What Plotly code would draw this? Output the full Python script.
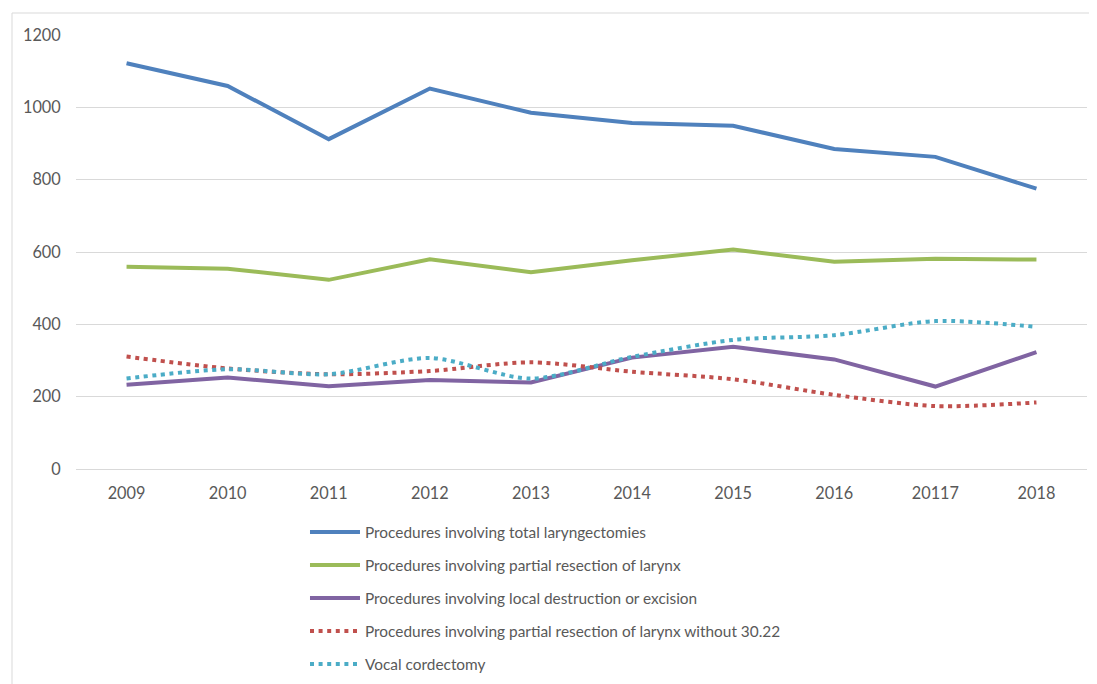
import plotly.graph_objects as go

years = ["2009", "2010", "2011", "2012", "2013", "2014", "2015", "2016", "20117", "2018"]
total_laryngectomies = [1122, 1059, 912, 1052, 985, 957, 949, 885, 863, 775]
partial_resection = [559, 554, 523, 580, 544, 577, 607, 573, 581, 579]
local_destruction = [233, 253, 229, 246, 239, 308, 338, 303, 228, 323]
partial_without_3022 = [311, 278, 262, 271, 295, 269, 248, 205, 174, 184]
vocal_cordectomy = [250, 276, 262, 307, 250, 310, 357, 370, 409, 393]

names = [
    "Procedures involving total laryngectomies",
    "Procedures involving partial resection of larynx",
    "Procedures involving local destruction or excision",
    "Procedures involving partial resection of larynx without 30.22",
    "Vocal cordectomy",
]
series = [total_laryngectomies, partial_resection, local_destruction,
          partial_without_3022, vocal_cordectomy]
colors = ["#4F81BD", "#9BBB59", "#8064A2", "#C0504D", "#4BACC6"]
dashes = ["solid", "solid", "solid", "dot", "dot"]

FONT = "Lato"
FS = 16.3
LFS = 15.4

fig = go.Figure()
for i, (n, s, c, d) in enumerate(zip(names, series, colors, dashes)):
    solid = d == "solid"
    fig.add_trace(go.Scatter(
        x=years, y=s, name=n, mode="lines", legendgroup=f"g{i}",
        line=dict(color=c, width=4,
                  dash="solid" if solid else "4px,4.6px",
                  shape="linear" if solid else "spline",
                  smoothing=None if solid else 0.8),
    ))

# page body has an 8px default margin, so the figure is 8px smaller
fig.update_layout(
    width=1089, height=676,
    margin=dict(l=68, r=10, t=27, b=215, autoexpand=False),
    paper_bgcolor="white", plot_bgcolor="white",
    font=dict(family=FONT, size=FS, color="#595959"),
    showlegend=True,
    legend=dict(
        x=0.2265, y=-0.107, xanchor="left", yanchor="top",
        orientation="v", traceorder="grouped", tracegroupgap=10,
        itemwidth=50, font=dict(family=FONT, size=LFS, color="#595959"),
        bgcolor="rgba(0,0,0,0)",
    ),
    xaxis=dict(
        type="category", range=[-0.5, 9.5], showgrid=False, zeroline=False,
        showline=False, ticks="outside", ticklen=0, tickcolor="white",
        ticklabelstandoff=9,
        tickfont=dict(family=FONT, size=FS, color="#595959"),
    ),
    yaxis=dict(
        range=[0, 1200], dtick=200, showgrid=True, gridcolor="#D9D9D9",
        gridwidth=1, zeroline=True, zerolinecolor="#D9D9D9", zerolinewidth=1,
        showline=False, ticks="outside", ticklen=0, tickcolor="white",
        ticklabelstandoff=11,
        tickfont=dict(family=FONT, size=FS, color="#595959"),
    ),
    shapes=[dict(
        type="rect", xref="paper", yref="paper",
        x0=(12 - 76) / 1011, x1=(1200 - 76) / 1011,
        y0=-1.0, y1=1 + (35 - 13) / 434,
        line=dict(color="#D9D9D9", width=1), fillcolor="rgba(0,0,0,0)",
        layer="below",
    )],
)

fig.write_html("out.html")
